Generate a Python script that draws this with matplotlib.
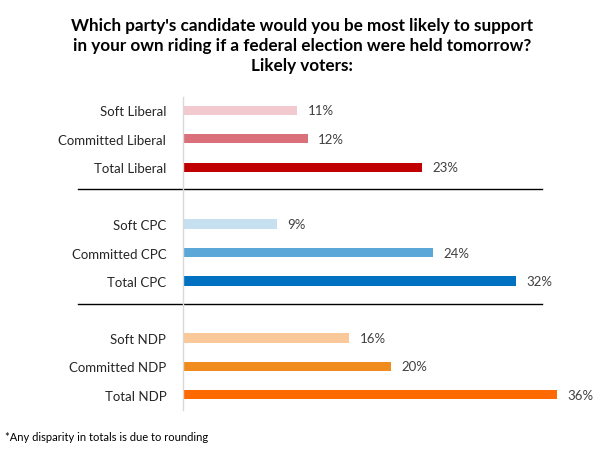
import matplotlib.pyplot as plt
import matplotlib.transforms as mtransforms

# data
labels = ["Soft Liberal", "Committed Liberal", "Total Liberal",
          "Soft CPC", "Committed CPC", "Total CPC",
          "Soft NDP", "Committed NDP", "Total NDP"]
values = [11, 12, 23, 9, 24, 32, 16, 20, 36]
colors = ["#F2C9CF", "#D9707A", "#C00000",
          "#C6E0F0", "#5BA8D8", "#0070C0",
          "#F9C99A", "#F08C1E", "#FF6A00"]
positions = [0, 1, 2, 4, 5, 6, 8, 9, 10]
separators = [2.77, 6.8]

title = ("Which party's candidate would you be most likely to support\n"
         "in your own riding if a federal election were held tomorrow?\n"
         "Likely voters:")
footnote = "*Any disparity in totals is due to rounding"

plt.rcParams['font.family'] = ['Lato', 'DejaVu Sans']

fig = plt.figure(figsize=(6.04, 4.56), dpi=100)
ax = fig.add_axes([183 / 604, 45 / 456, 392 / 604, 313 / 456])

ax.barh(positions, values, height=0.32, color=colors)
ax.set_xlim(0, 37.7)
ax.set_ylim(10.53, -0.46)

# value labels
for p, v in zip(positions, values):
    ax.text(v + 1.0, p, f"{v}%", va='center', ha='left',
            fontsize=9.5, color='#404040')

ax.set_yticks(positions)
ax.set_yticklabels(labels, fontsize=9.5, color='#262626')
ax.tick_params(axis='y', length=0, pad=12)
ax.set_xticks([])

for side in ['top', 'right', 'bottom']:
    ax.spines[side].set_visible(False)
ax.spines['left'].set_color('#D9D9D9')
ax.spines['left'].set_linewidth(1.0)

# group separators
trans = mtransforms.blended_transform_factory(ax.transAxes, ax.transData)
for s in separators:
    ax.plot([-0.268, 0.915], [s, s], color='black', linewidth=1.0,
            transform=trans, clip_on=False)

fig.text(302 / 604, 1 - 18 / 456, title, ha='center', va='top',
         fontsize=12.3, fontweight='bold', linespacing=1.32, color='black')
fig.text(5 / 604, 1 - 438 / 456, footnote, ha='left', va='center',
         fontsize=8, color='black')

fig.savefig("out.png", dpi=100)
